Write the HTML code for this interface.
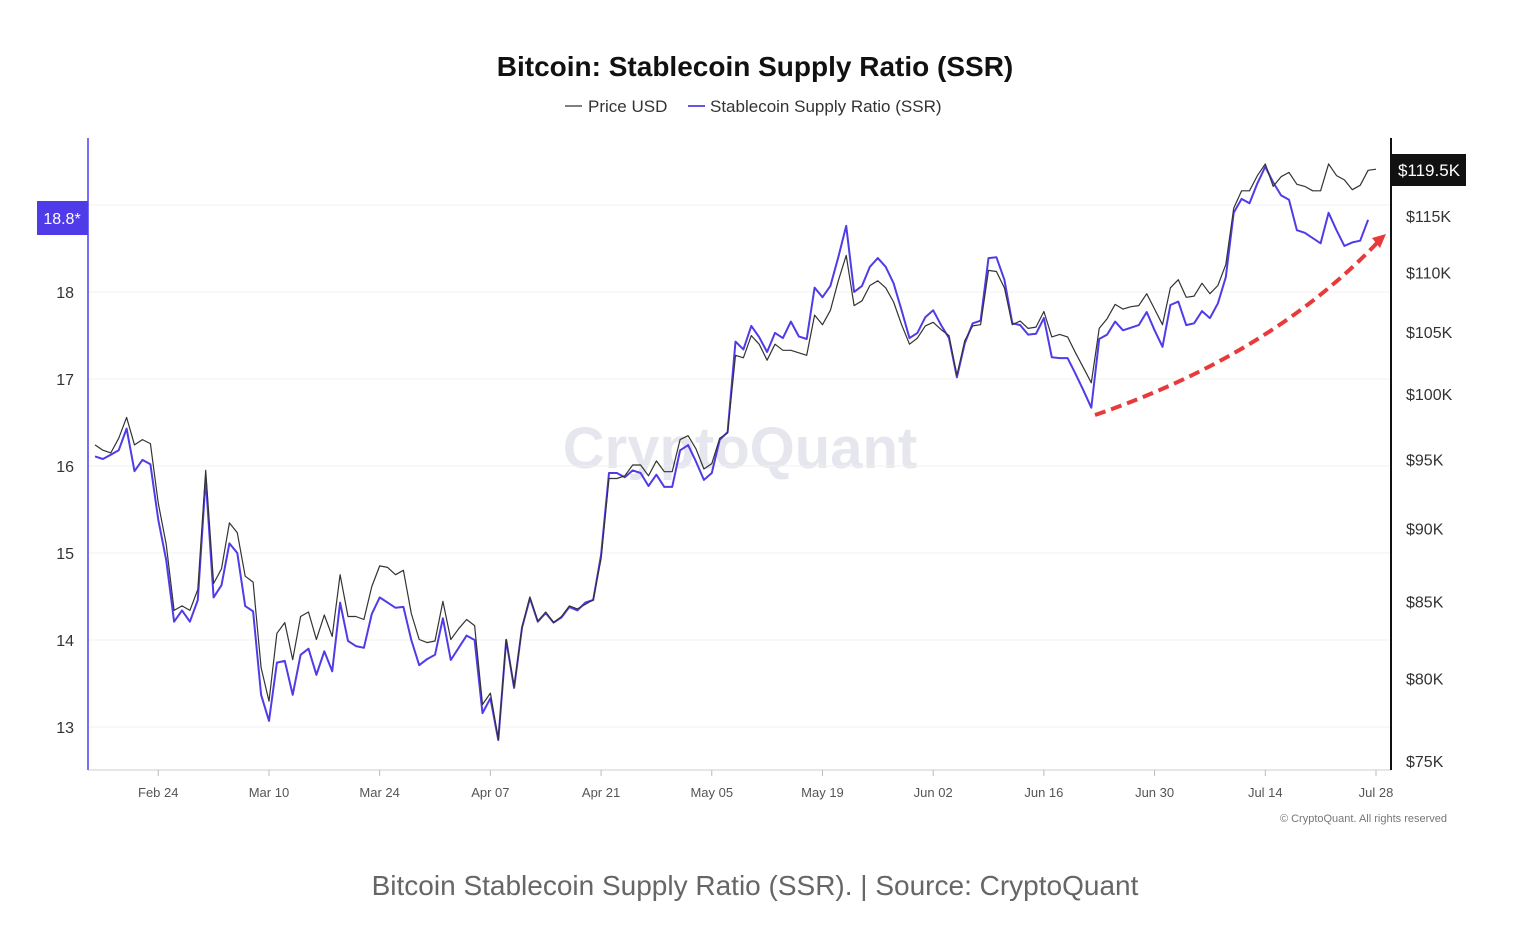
<!DOCTYPE html>
<html><head><meta charset="utf-8"><style>
html,body{margin:0;padding:0;background:#fff;}
body{width:1524px;height:926px;overflow:hidden;font-family:"Liberation Sans",sans-serif;}
</style></head><body>
<svg id="chart" width="1524" height="926" viewBox="0 0 1524 926" xmlns="http://www.w3.org/2000/svg" font-family="Liberation Sans, sans-serif">
<text x="755" y="76" text-anchor="middle" font-size="28" font-weight="bold" fill="#111">Bitcoin: Stablecoin Supply Ratio (SSR)</text>
<g>
<g><line x1="565" y1="106" x2="582" y2="106" stroke="#333" stroke-width="1.2"/><text x="588" y="112" font-size="17" fill="#333">Price USD</text></g>
<g><line x1="688" y1="106" x2="705" y2="106" stroke="#4f3ce8" stroke-width="1.8"/><text x="710" y="112" font-size="17" fill="#333">Stablecoin Supply Ratio (SSR)</text></g>
</g>
<text x="740" y="468" text-anchor="middle" font-size="58" font-weight="bold" fill="#e6e6ee">CryptoQuant</text>
<g id="grid"></g>
<g id="xaxis"></g>
<g id="yleft"></g>
<g id="yright"></g>
<g id="series"></g>
<line x1="88" y1="138" x2="88" y2="770" stroke="#7b6cf6" stroke-width="2"/>
<line x1="1391" y1="138" x2="1391" y2="770" stroke="#111" stroke-width="2"/>
<g><rect x="37" y="201" width="51" height="34" fill="#4f3ce8"/><text x="62" y="224" text-anchor="middle" font-size="16" fill="#fff">18.8*</text></g>
<g><rect x="1392" y="154" width="74" height="32" fill="#111"/><text x="1429" y="176" text-anchor="middle" font-size="17" fill="#fff">$119.5K</text></g>
<g>
<path d="M1095,415 Q1270,355 1378,242" fill="none" stroke="#e83a3a" stroke-width="4" stroke-dasharray="11,6"/>
<polygon points="1386,234 1372,238 1380,248" fill="#e83a3a"/>
</g>
<text x="1447" y="822" text-anchor="end" font-size="11" fill="#777">© CryptoQuant. All rights reserved</text>
<text x="755" y="895" text-anchor="middle" font-size="28" fill="#666">Bitcoin Stablecoin Supply Ratio (SSR). | Source: CryptoQuant</text>
</svg>
<script>
const xTickLabels = ["Feb 24","Mar 10","Mar 24","Apr 07","Apr 21","May 05","May 19","Jun 02","Jun 16","Jun 30","Jul 14","Jul 28"];
const xTickDays = [8,22,36,50,64,78,92,106,120,134,148,162];
const leftTicks = [13,14,15,16,17,18];
const rightTicks = [75,80,85,90,95,100,105,110,115];
const priceK = [96.1,95.7,95.5,96.6,98.2,96.1,96.5,96.2,91.8,88.9,84.4,84.7,84.4,85.8,94.2,86.2,87.2,90.4,89.7,86.7,86.3,80.7,78.6,82.9,83.6,81.2,84.0,84.3,82.5,84.1,82.7,86.8,84.0,84.0,83.8,86.0,87.4,87.3,86.8,87.1,84.2,82.5,82.3,82.4,85.0,82.5,83.2,83.8,83.4,78.4,79.1,76.3,82.5,79.5,83.3,85.3,83.7,84.3,83.6,84.0,84.7,84.5,84.8,85.1,87.9,93.6,93.6,93.8,94.6,94.6,93.8,94.9,94.1,94.1,96.5,96.8,95.8,94.3,94.7,96.6,97.0,103.1,102.9,104.7,104.0,102.7,104.0,103.5,103.5,103.3,103.1,106.4,105.6,106.8,109.3,111.5,107.2,107.6,108.9,109.3,108.7,107.5,105.6,104.0,104.5,105.5,105.8,105.2,104.7,101.5,104.3,105.5,105.6,110.2,110.1,108.7,105.6,105.9,105.3,105.4,106.7,104.6,104.8,104.6,103.3,102.1,100.9,105.3,106.1,107.3,106.9,107.1,107.2,108.2,106.9,105.6,108.7,109.4,107.9,108.0,109.1,108.2,108.9,110.7,115.7,117.3,117.3,118.7,119.8,117.7,118.6,119.0,117.9,117.7,117.3,117.3,119.8,118.7,118.3,117.4,117.8,119.2,119.3];
const ssr = [16.11,16.08,16.13,16.18,16.43,15.94,16.07,16.02,15.38,14.92,14.21,14.34,14.21,14.46,15.86,14.49,14.63,15.11,15.00,14.39,14.33,13.37,13.07,13.74,13.76,13.37,13.83,13.90,13.60,13.87,13.64,14.43,13.99,13.93,13.91,14.30,14.49,14.43,14.37,14.38,14.00,13.71,13.78,13.83,14.25,13.77,13.91,14.05,14.00,13.16,13.33,12.85,14.00,13.45,14.14,14.48,14.21,14.31,14.20,14.26,14.38,14.34,14.43,14.46,14.98,15.92,15.92,15.87,15.95,15.92,15.77,15.90,15.76,15.76,16.18,16.24,16.05,15.84,15.92,16.30,16.39,17.43,17.34,17.61,17.48,17.31,17.53,17.47,17.66,17.49,17.46,18.05,17.94,18.07,18.40,18.76,18.00,18.07,18.29,18.39,18.29,18.10,17.79,17.47,17.53,17.71,17.79,17.62,17.47,17.02,17.41,17.64,17.67,18.39,18.40,18.14,17.64,17.62,17.51,17.52,17.70,17.25,17.24,17.24,17.06,16.87,16.67,17.46,17.51,17.66,17.56,17.59,17.62,17.77,17.56,17.37,17.85,17.89,17.62,17.64,17.78,17.70,17.87,18.17,18.91,19.07,19.02,19.25,19.44,19.26,19.11,19.06,18.71,18.68,18.62,18.56,18.91,18.71,18.53,18.57,18.59,18.83];

const NS="http://www.w3.org/2000/svg";
function xDay(d){return 95 + d*(1281/162);}
function yLeft(v){return 727 - (v-13)*87;}
function yRight(p){return 761 - 1275*Math.log(p/75);}
function mk(tag,attrs,parent){const e=document.createElementNS(NS,tag);for(const k in attrs)e.setAttribute(k,attrs[k]);parent.appendChild(e);return e;}

const grid=document.getElementById('grid');
leftTicks.concat([19]).forEach(v=>{
  const l=mk('line',{x1:89,x2:1390,y1:yLeft(v),y2:yLeft(v),stroke:'#f0f0f0','stroke-width':1},grid);
  
  
});
const yl=document.getElementById('yleft');
leftTicks.forEach(v=>{
  const t=mk('text',{x:74,y:yLeft(v)+6,'text-anchor':'end','font-size':16,fill:'#333'},yl);
  t.textContent=v;
  
  
});
const yr=document.getElementById('yright');
rightTicks.forEach(p=>{
  const t=mk('text',{x:1406,y:yRight(p)+6,'font-size':16,fill:'#333'},yr);
  t.textContent='$'+p+'K';
  
  
});
const xa=document.getElementById('xaxis');
const base=mk('line',{x1:88,x2:1391,y1:770,y2:770,stroke:'#ccc','stroke-width':1},xa);


xTickLabels.forEach((lab,i)=>{
  const x=xDay(xTickDays[i]);
  const tk=mk('line',{x1:x,x2:x,y1:770,y2:776,stroke:'#bbb','stroke-width':1},xa);
  
  
  const t=mk('text',{x:x,y:797,'text-anchor':'middle','font-size':13,fill:'#555'},xa);
  t.textContent=lab;
  
  
});
const sg=document.getElementById('series');
const pPrice=mk('polyline',{points:priceK.map((p,i)=>xDay(i).toFixed(1)+','+yRight(p).toFixed(1)).join(' '),fill:'none',stroke:'#333','stroke-width':1.2,'stroke-linejoin':'round'},sg);


const pSsr=mk('polyline',{points:ssr.map((v,i)=>xDay(i).toFixed(1)+','+yLeft(v).toFixed(1)).join(' '),fill:'none',stroke:'#4f3ce8','stroke-width':2,'stroke-linejoin':'round'},sg);


sg.appendChild(pPrice);
</script>
</body></html>
